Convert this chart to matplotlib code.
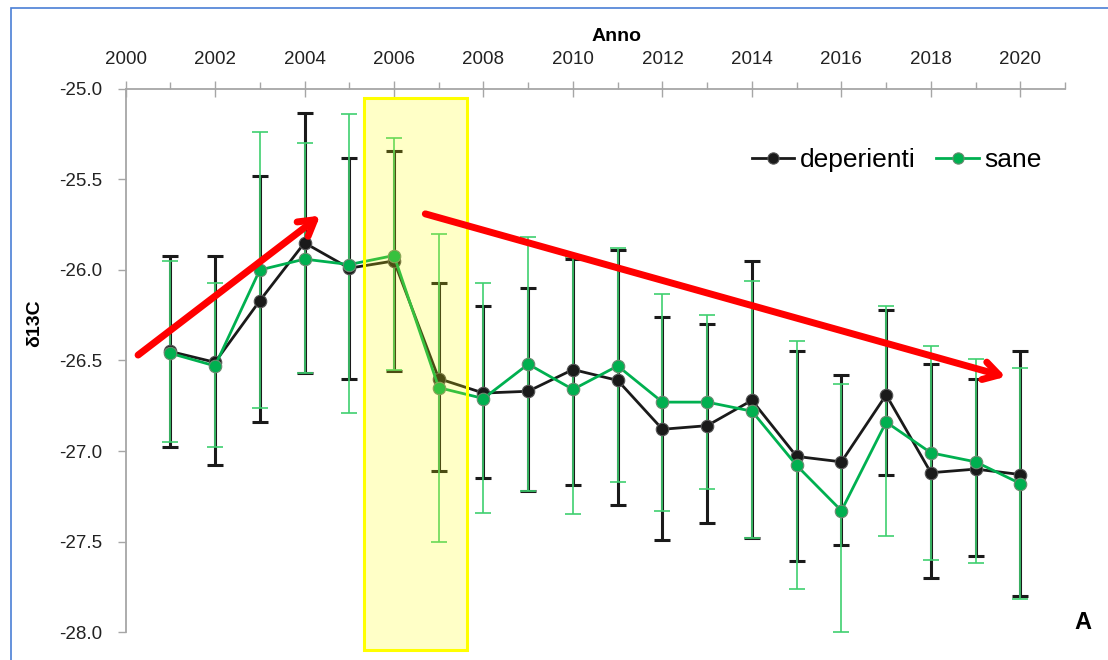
import numpy as np
import matplotlib
matplotlib.use("Agg")
import matplotlib.pyplot as plt
from matplotlib.patches import Rectangle
from matplotlib.ticker import MultipleLocator, FormatStrFormatter

plt.rcParams['font.family'] = ['Liberation Sans Narrow', 'Liberation Sans', 'DejaVu Sans']

anni = np.arange(2001, 2021)

# deperienti: mean, top and bottom of error bar
dep = [-26.45, -26.51, -26.17, -25.85, -25.99, -25.95, -26.60, -26.68, -26.67, -26.55,
       -26.61, -26.88, -26.86, -26.72, -27.03, -27.06, -26.69, -27.12, -27.10, -27.13]
dep_hi = [-25.92, -25.92, -25.48, -25.13, -25.38, -25.34, -26.07, -26.20, -26.10, -25.94,
          -25.89, -26.26, -26.30, -25.95, -26.45, -26.58, -26.22, -26.52, -26.60, -26.45]
dep_lo = [-26.98, -27.08, -26.84, -26.57, -26.60, -26.56, -27.11, -27.15, -27.22, -27.19,
          -27.30, -27.49, -27.40, -27.48, -27.61, -27.52, -27.13, -27.70, -27.58, -27.80]

# sane
san = [-26.46, -26.53, -26.00, -25.94, -25.97, -25.92, -26.65, -26.71, -26.52, -26.66,
       -26.53, -26.73, -26.73, -26.78, -27.08, -27.33, -26.84, -27.01, -27.06, -27.18]
san_hi = [-25.95, -26.07, -25.24, -25.30, -25.14, -25.27, -25.80, -26.07, -25.82, -25.93,
          -25.88, -26.13, -26.25, -26.06, -26.39, -26.63, -26.20, -26.42, -26.49, -26.54]
san_lo = [-26.95, -26.98, -26.76, -26.57, -26.79, -26.55, -27.50, -27.34, -27.22, -27.35,
          -27.17, -27.33, -27.21, -27.48, -27.76, -28.00, -27.47, -27.60, -27.62, -27.82]

dep = np.array(dep); san = np.array(san)
dep_err = [dep - np.array(dep_lo), np.array(dep_hi) - dep]
san_err = [san - np.array(san_lo), np.array(san_hi) - san]

fig = plt.figure(figsize=(11.08, 6.6), dpi=100)
ax = fig.add_axes([0.1133, 0.0424, 0.848, 0.8228])

black = '#1a1a1a'
green = '#00b050'

ax.errorbar(anni, dep, yerr=dep_err, fmt='none', ecolor=black, elinewidth=2.2,
            capsize=6, capthick=2.2, zorder=2)
ax.errorbar(anni, san, yerr=san_err, fmt='none', ecolor='#3fcf70', elinewidth=1.2,
            capsize=6, capthick=1.2, zorder=3)
ax.plot(anni, dep, color=black, lw=2, marker='o', ms=9, mfc=black, mec='#555555',
        mew=0.8, label='deperienti', zorder=4)
ax.plot(anni, san, color=green, lw=2, marker='o', ms=9, mfc=green, mec='#6a8a70',
        mew=0.8, label='sane', zorder=4)

# highlighted period
ax.add_patch(Rectangle((2005.33, -28.1), 2.31, 3.05, facecolor=(1, 1, 0, 0.22),
                       edgecolor='#ffff00', lw=2.2, zorder=5, clip_on=False))

# trend arrows
arr = dict(arrowstyle='->,head_length=1.1,head_width=0.65', color='#ff0000', lw=5,
           shrinkA=0, shrinkB=0)
ax.annotate('', xy=(2004.35, -25.70), xytext=(2000.28, -26.47), arrowprops=arr, zorder=6)
ax.annotate('', xy=(2019.67, -26.59), xytext=(2006.70, -25.69), arrowprops=arr, zorder=6)

ax.set_xlim(2000, 2021)
ax.set_ylim(-28, -25)
ax.xaxis.tick_top()
ax.xaxis.set_label_position('top')
ax.xaxis.set_major_locator(MultipleLocator(2))
ax.xaxis.set_minor_locator(MultipleLocator(1))
ax.yaxis.set_major_locator(MultipleLocator(0.5))
ax.yaxis.set_major_formatter(FormatStrFormatter('%.1f'))

for s in ['bottom', 'right']:
    ax.spines[s].set_visible(False)
for s in ['top', 'left']:
    ax.spines[s].set_color('#a6a6a6')
    ax.spines[s].set_linewidth(1.3)

ax.tick_params(axis='x', which='major', direction='inout', length=12, width=1,
               color='#a6a6a6', labelsize=13.5, pad=9, labelcolor='#222222')
ax.tick_params(axis='x', which='minor', direction='out', length=5, width=1, color='#a6a6a6')
ax.tick_params(axis='y', which='major', direction='out', length=6, width=1,
               color='#a6a6a6', labelsize=13.5, labelcolor='#222222', pad=11)

ax.set_xlabel('Anno', fontsize=14, fontweight='bold', va='center')
ax.xaxis.set_label_coords(0.523, 1.096)
ax.set_ylabel('δ13C', fontsize=14, fontweight='bold', va='center')
ax.yaxis.set_label_coords(-0.0963, 0.569)

ax.legend(loc='upper right', bbox_to_anchor=(1.0, 0.935), ncol=2, frameon=False,
          fontsize=19, handlelength=1.6, handletextpad=0.2, columnspacing=0.8,
          markerscale=0.9)

fig.text(0.977, 0.04, 'A', fontsize=17, fontweight='bold', ha='center', va='bottom',
         family=['Liberation Sans', 'DejaVu Sans'])

# outer frame
fig.add_artist(Rectangle((0.0095, -0.05), 1.1, 1.038, transform=fig.transFigure,
                         fill=False, edgecolor='#4a7fd6', lw=1.2))

fig.savefig('out.png', dpi=100)
